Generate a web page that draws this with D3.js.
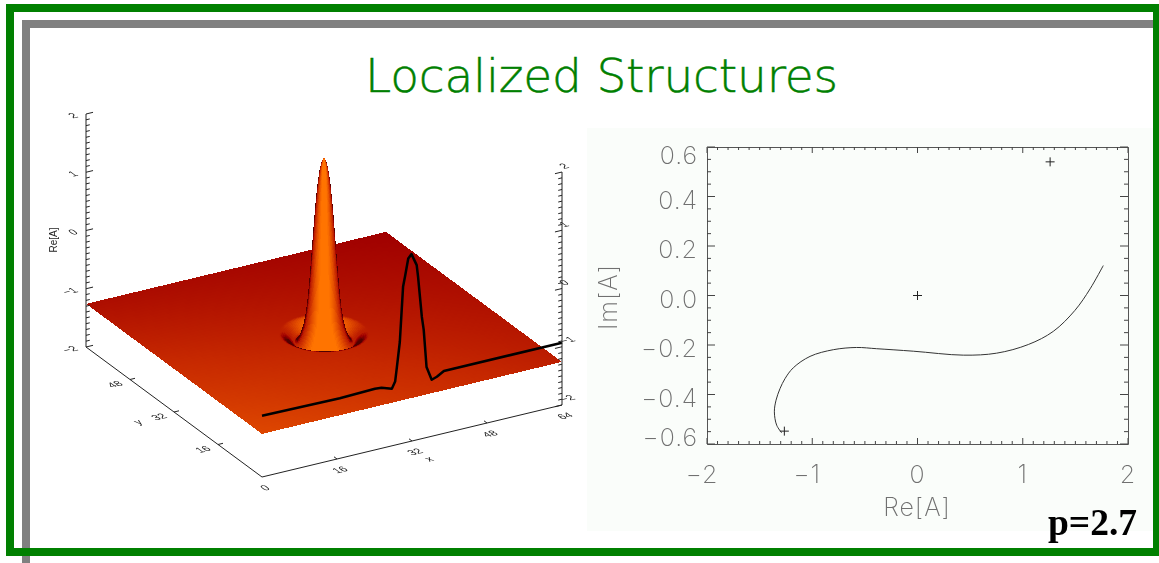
<!DOCTYPE html>
<html>
<head>
<meta charset="utf-8">
<script src="https://cdn.jsdelivr.net/npm/d3@7"></script>
<style>
  html, body { margin: 0; padding: 0; background: #fff; overflow: hidden; }
  svg { display: block; }
  .gray-text { filter: grayscale(1); }
</style>
</head>
<body>
<div id="chart"></div>
<script>
// left panel: surface profile, Re[A] every half unit of radius from the peak centre
const profileZ = [1.76, 1.68, 1.46, 1.05, 0.48, -0.15, -0.68, -1.02, -1.2, -1.32, -1.41, -1.43, -1.4, -1.35, -1.31, -1.28, -1.26, -1.26, -1.26, -1.26, -1.26];
const profileStep = 0.5;
const planeLevel = -1.26;
// shade at the plane corners: (0,0), (64,0), (0,64), (64,64)
const planeShade = [0.72, 0.5, 0.42, 0.35];
const shadeStops = [0, 0.2, 0.35, 0.55, 0.75, 1];
const shadeColors = ["#300000", "#700000", "#a00000", "#c62800", "#e24c00", "#ff7400"];

// black cut along x, drawn on the front wall
const cutX = [0, 16.6, 24.1, 25.5, 27.7, 28.4, 28.7, 29.4, 29.8, 30.1, 30.5, 31.2, 31.9, 33, 33.3, 34.1, 34.5, 35.1, 36.2, 37.3, 38.8, 64];
const cutZ = [-0.95, -0.97, -0.95, -0.96, -1.02, -0.91, -0.72, -0.25, 0.29, 0.69, 0.85, 1.15, 1.21, 1, 0.79, 0.09, -0.14, -0.79, -1.03, -1, -0.93, -0.93];

const floorTicks = [0, 16, 32, 48, 64];
const heightTicks = [-2, -1, 0, 1, 2];

// right panel: trajectory in the complex plane
const curveRe = [-1.29, -1.338, -1.36, -1.344, -1.306, -1.259, -1.18, -1.021, -0.8, -0.578, -0.388, -0.04, 0.435, 0.752, 1.053, 1.29, 1.496, 1.64, 1.765];
const curveIm = [-0.555, -0.524, -0.47, -0.423, -0.376, -0.336, -0.292, -0.246, -0.219, -0.21, -0.215, -0.225, -0.241, -0.233, -0.198, -0.145, -0.06, 0.027, 0.121];
const fixedRe = [-1.265, 0, 1.26];
const fixedIm = [-0.548, 0, 0.54];
const reTicks = [-2, -1, 0, 1, 2];
const imTicks = [-0.6, -0.4, -0.2, 0, 0.2, 0.4, 0.6];

const svg = d3.select("#chart").append("svg").attr("width", 1159).attr("height", 563);

svg.append("rect").attr("width", 1159).attr("height", 563).attr("fill", "#fff");

// frames
svg.append("rect").attr("x", 22).attr("y", 20).attr("width", 1131).attr("height", 8).attr("fill", "#808080");
svg.append("rect").attr("x", 22).attr("y", 20).attr("width", 8).attr("height", 543).attr("fill", "#808080");
svg.append("path")
  .attr("d", "M10,8H1157V552H10Z")
  .attr("fill", "none")
  .attr("stroke", "#008000")
  .attr("stroke-width", 8);

svg.append("text")
  .attr("x", 365)
  .attr("y", 92)
  .attr("textLength", 473)
  .attr("lengthAdjust", "spacing")
  .attr("fill", "#008000")
  .attr("stroke", "#008000")
  .attr("stroke-width", 0.5)
  .attr("font-family", "'DejaVu Sans', sans-serif")
  .attr("font-weight", 200)
  .attr("font-size", 47)
  .text("Localized Structures");

// ---- left panel ----
const xWall = d3.scaleLinear().domain([0, 64]).range([0, 300]);
const xRise = d3.scaleLinear().domain([0, 64]).range([0, -72]);
const yWall = d3.scaleLinear().domain([0, 64]).range([0, -176]);
const yRise = d3.scaleLinear().domain([0, 64]).range([0, -130]);
const zRise = d3.scaleLinear().domain([-2, 2]).range([0, -233]);
const originX = 262;
const originY = 477;

function project(x, y, z) {
  return [originX + xWall(x) + yWall(y), originY + xRise(x) + yRise(y) + zRise(z)];
}
const pts = (list) => list.map((p) => p.map((v) => v.toFixed(2)).join(",")).join(" ");

const shade = d3.scaleLinear().domain(shadeStops).range(shadeColors).clamp(true);
const profileCurve = d3.interpolateBasis(profileZ);
const profileMax = profileStep * (profileZ.length - 1);
const heightAt = (r) => profileCurve(Math.min(Math.max(r, 0), profileMax) / profileMax);

function baseShade(x, y) {
  const u = x / 64;
  const v = y / 64;
  return planeShade[0] * (1 - u) * (1 - v) + planeShade[1] * u * (1 - v) + planeShade[2] * (1 - u) * v + planeShade[3] * u * v;
}

const surface = svg.append("g").attr("shape-rendering", "crispEdges");

// flat plane
const planeStep = 1;
const planeCells = [];
for (let x = 0; x < 64; x += planeStep) {
  for (let y = 0; y < 64; y += planeStep) planeCells.push([x, y]);
}
surface.selectAll(".plane")
  .data(planeCells)
  .join("polygon")
  .attr("class", "plane")
  .attr("points", ([x, y]) => pts([
    project(x, y, planeLevel),
    project(x + planeStep, y, planeLevel),
    project(x + planeStep, y + planeStep, planeLevel),
    project(x, y + planeStep, planeLevel),
  ]))
  .attr("fill", ([x, y]) => shade(baseShade(x + planeStep / 2, y + planeStep / 2)));

// peak, revolved around the centre
const worldZ = 11.8;
const view = [-0.44, -0.79, 0.42];
const flatLight = view[2];
const dr = 0.12;
const da = (2 * Math.PI) / 96;

function litShade(base, light) {
  if (light >= flatLight) {
    const k = Math.min((light - flatLight) / (0.9 - flatLight), 1);
    return base + (1 - base) * Math.pow(k, 1.5);
  }
  return Math.max(base - base * 1.4 * (flatLight - light) / flatLight, 0.1);
}

const peakCells = [];
for (let r = 0; r < 10; r += dr) {
  for (let a = 0; a < 2 * Math.PI - 1e-6; a += da) {
    const rm = r + dr / 2;
    const am = a + da / 2;
    const inner = Math.max(rm - 0.1, 0);
    const slope = (worldZ * (heightAt(rm + 0.1) - heightAt(inner))) / (rm + 0.1 - inner);
    const nx = -slope * Math.cos(am);
    const ny = -slope * Math.sin(am);
    const len = Math.hypot(nx, ny, 1);
    const light = (nx * view[0] + ny * view[1] + view[2]) / len;
    const cx = 32 + rm * Math.cos(am);
    const cy = 32 + rm * Math.sin(am);
    peakCells.push({
      r, a,
      depth: 72 * cx + 130 * cy,
      t: litShade(baseShade(cx, cy), light),
    });
  }
}
peakCells.sort((p, q) => q.depth - p.depth);

function ringPoint(r, a) {
  return project(32 + r * Math.cos(a), 32 + r * Math.sin(a), heightAt(r));
}
surface.selectAll(".peak")
  .data(peakCells)
  .join("polygon")
  .attr("class", "peak")
  .attr("points", (d) => pts([
    ringPoint(d.r, d.a),
    ringPoint(d.r + dr, d.a),
    ringPoint(d.r + dr, d.a + da),
    ringPoint(d.r, d.a + da),
  ]))
  .attr("fill", (d) => shade(d.t));

// black cut
const cutLine = d3.line()
  .x((d) => project(d[0], 0, d[1])[0])
  .y((d) => project(d[0], 0, d[1])[1]);
svg.append("path")
  .attr("d", cutLine(d3.zip(cutX, cutZ)))
  .attr("fill", "none")
  .attr("stroke", "#000")
  .attr("stroke-width", 2.5)
  .attr("stroke-linejoin", "round");

// axes of the 3d box
const axes3d = svg.append("g").attr("stroke", "#222").attr("stroke-width", 1).attr("fill", "none");
function seg(a, b) {
  axes3d.append("line").attr("x1", a[0]).attr("y1", a[1]).attr("x2", b[0]).attr("y2", b[1]);
}
seg(project(0, 64, -2), project(0, 0, -2));
seg(project(0, 0, -2), project(64, 0, -2));
seg(project(0, 64, -2), project(0, 64, 2));
seg(project(64, 0, -2), project(64, 0, 2));

floorTicks.slice(1, -1).forEach((t) => {
  const onX = project(t, 0, -2);
  seg(onX, [onX[0] - 3, onX[1] - 2.2]);
  const onY = project(0, t, -2);
  seg(onY, [onY[0] + 5, onY[1] - 1.2]);
});
d3.range(-20, 21).forEach((i) => {
  const z = i / 10;
  const major = i % 10 === 0;
  const k = major ? 1.5 : 0.8;
  const left = project(0, 64, z);
  seg(left, [left[0] + 4.69 * k, left[1] - 1.125 * k]);
  const right = project(64, 0, z);
  seg(right, [right[0] - 4.69 * k, right[1] + 1.125 * k]);
});

// small labels lie in the tilted box plane
const labels3d = svg.append("g")
  .attr("class", "gray-text")
  .attr("fill", "#222")
  .attr("font-family", "'Liberation Sans', sans-serif")
  .attr("font-size", 11);
function tiltedLabel(str, sx, sy, anchor) {
  labels3d.append("text")
    .attr("transform", `matrix(0.972,-0.233,0.804,0.594,${sx},${sy})`)
    .attr("text-anchor", anchor || "middle")
    .text(str);
}
const minus = (v) => String(v).replace("-", "\u2212");
heightTicks.forEach((t) => {
  const p = project(0, 64, t);
  tiltedLabel(minus(t), p[0] - 7, p[1] + 3, "end");
  const q = project(64, 0, t);
  tiltedLabel(minus(t), q[0] + 2, q[1] - 3, "start");
});
floorTicks.forEach((t) => {
  const p = project(t, 0, -2);
  tiltedLabel(t, p[0] + 6, p[1] + 13);
});
floorTicks.slice(1, -1).forEach((t) => {
  const p = project(0, t, -2);
  tiltedLabel(t, p[0] - 12, p[1] + 7);
});
tiltedLabel("x", 432, 461);
tiltedLabel("y", 141, 424);
labels3d.append("text")
  .attr("transform", "translate(57,240) rotate(-90)")
  .attr("text-anchor", "middle")
  .attr("font-size", 10)
  .text("Re[A]");

// ---- right panel ----
svg.append("rect")
  .attr("x", 587).attr("y", 128)
  .attr("width", 566).attr("height", 403)
  .attr("fill", "#fafdfa");

const reScale = d3.scaleLinear().domain([-2, 2]).range([707, 1128]);
const imScale = d3.scaleLinear().domain([-0.6, 0.6]).range([444, 147]);

const plot = svg.append("g");
const thinFont = "Inter, 'Liberation Sans', sans-serif";

function boxAxis(axis, translate, cls) {
  plot.append("g")
    .attr("class", cls)
    .attr("transform", translate)
    .call(axis)
    .call((g) => g.selectAll("text").remove())
    .call((g) => g.selectAll("path,line").attr("stroke", "#555").attr("stroke-width", 1));
}
const reMinor = d3.range(-20, 21).map((i) => i / 10);
const imMinor = d3.range(-12, 13).map((i) => i / 20);
const isMajor = (list, v) => list.some((t) => Math.abs(t - v) < 1e-6);

function addAxes() {
  [["bottom", 444, -1], ["top", 147, 1]].forEach(([side, y, dir]) => {
    const ax = (side === "bottom" ? d3.axisBottom(reScale) : d3.axisTop(reScale)).tickValues(reMinor).tickSizeOuter(0);
    boxAxis(ax.tickSize(0), `translate(0,${y})`, "re-axis");
    plot.selectAll(`.t-${side}`)
      .data(reMinor)
      .join("line")
      .attr("class", `t-${side}`)
      .attr("x1", (d) => reScale(d))
      .attr("x2", (d) => reScale(d))
      .attr("y1", y)
      .attr("y2", (d) => y + dir * (isMajor(reTicks, d) ? 6 : 3))
      .attr("stroke", "#444");
  });
  [["left", 707, 1], ["right", 1128, -1]].forEach(([side, x, dir]) => {
    const ax = (side === "left" ? d3.axisLeft(imScale) : d3.axisRight(imScale)).tickValues(imMinor).tickSizeOuter(0);
    boxAxis(ax.tickSize(0), `translate(${x},0)`, "im-axis");
    plot.selectAll(`.t-${side}`)
      .data(imMinor)
      .join("line")
      .attr("class", `t-${side}`)
      .attr("x1", x)
      .attr("x2", (d) => x + dir * (isMajor(imTicks, d) ? 8 : 4))
      .attr("y1", (d) => imScale(d))
      .attr("y2", (d) => imScale(d))
      .attr("stroke", "#444");
  });
}
addAxes();

const plotText = plot.append("g")
  .attr("class", "gray-text")
  .attr("fill", "#707070")
  .attr("font-family", thinFont)
  .attr("font-weight", 200)
  .attr("font-size", 25)
  .attr("letter-spacing", 1);

plotText.selectAll(".re-label")
  .data(reTicks)
  .join("text")
  .attr("class", "re-label")
  .attr("x", (d) => reScale(d) - (d < 0 ? 5 : 0))
  .attr("y", 483)
  .attr("text-anchor", "middle")
  .text((d) => minus(d));

plotText.selectAll(".im-label")
  .data(imTicks)
  .join("text")
  .attr("class", "im-label")
  .attr("x", 698)
  .attr("y", (d) => Math.min(Math.max(imScale(d) + 12, 164), 446))
  .attr("text-anchor", "end")
  .text((d) => minus(d.toFixed(1)));

plotText.append("text")
  .attr("x", 917).attr("y", 516)
  .attr("text-anchor", "middle")
  .text("Re[A]");
plotText.append("text")
  .attr("transform", "translate(617,297) rotate(-90)")
  .attr("text-anchor", "middle")
  .text("Im[A]");

const curve = d3.line()
  .x((d) => reScale(d[0]))
  .y((d) => imScale(d[1]))
  .curve(d3.curveCatmullRom);
plot.append("path")
  .attr("d", curve(d3.zip(curveRe, curveIm)))
  .attr("fill", "none")
  .attr("stroke", "#333")
  .attr("stroke-width", 1);

plot.selectAll(".fixed")
  .data(d3.zip(fixedRe, fixedIm))
  .join("path")
  .attr("class", "fixed")
  .attr("d", (d) => {
    const px = reScale(d[0]);
    const py = imScale(d[1]);
    return `M${px - 4.5},${py}H${px + 4.5}M${px},${py - 4.5}V${py + 4.5}`;
  })
  .attr("stroke", "#222")
  .attr("fill", "none");

svg.append("text")
  .attr("x", 1048)
  .attr("y", 535)
  .attr("font-family", "'Liberation Serif', serif")
  .attr("font-weight", 700)
  .attr("font-size", 37.5)
  .attr("fill", "#000")
  .text("p=2.7");
</script>
</body>
</html>
